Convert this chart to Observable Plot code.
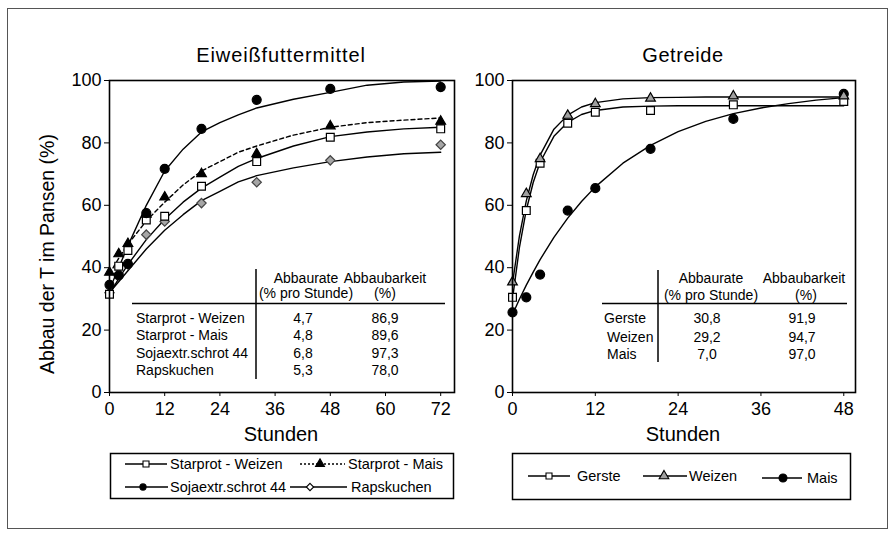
<!DOCTYPE html>
<html><head><meta charset="utf-8">
<script src="https://cdn.jsdelivr.net/npm/d3@7"></script>
<script src="https://cdn.jsdelivr.net/npm/@observablehq/plot@0.6"></script>
<style>
body{margin:0;background:#fff;}
#wrap{position:relative;width:890px;height:536px;overflow:hidden;background:#fff;font-family:"Liberation Sans",Arial,sans-serif;}
#wrap > svg, #wrap > div{position:absolute;}
</style></head><body><div id="wrap"></div>
<script>
// ---------- data: Eiweißfuttermittel ----------
const leftHours = [0, 2, 4, 8, 12, 20, 32, 48, 72];
const spWeizenPts = [31.5, 40.5, 45.5, 55.3, 56.5, 66.1, 74.0, 81.8, 84.5];
const spMaisPts   = [38.5, 44.4, 47.7, 57.1, 62.6, 70.1, 76.5, 85.4, 86.9];
const sojaPts     = [34.5, 37.5, 41.2, 57.5, 71.7, 84.5, 93.8, 97.3, 97.9];
const rapsPts     = [32.0, 38.0, 41.0, 50.6, 54.8, 60.7, 67.4, 74.4, 79.4];
const leftCurveHours = [0, 2, 4, 8, 12, 16, 20, 24, 28, 32, 40, 48, 56, 64, 72];
const spWeizenCurve = [31.5, 36.5, 41, 49, 55.5, 61, 65.5, 69, 72.5, 75, 79, 82, 83.5, 84.5, 85];
const spMaisCurve   = [38, 43, 47.5, 55, 61, 66.5, 71, 74, 77, 79, 82.5, 85, 86.5, 87.3, 88];
const sojaCurve     = [33, 40, 47, 60, 71, 78, 83.5, 86.5, 89, 91.2, 94, 96.2, 98.5, 99.5, 99.8];
const rapsCurve     = [32, 35.5, 39, 46, 52, 57, 61.5, 64.5, 67.5, 69.5, 72, 74, 75.5, 76.5, 77];
const leftNames = ["Starprot - Weizen", "Starprot - Mais", "Sojaextr.schrot 44", "Rapskuchen"];
const leftRate  = ["4,7", "4,8", "6,8", "5,3"];
const leftDeg   = ["86,9", "89,6", "97,3", "78,0"];

// ---------- data: Getreide ----------
const rightHours = [0, 2, 4, 8, 12, 20, 32, 48];
const gerstePts = [30.5, 58.3, 73.5, 86.3, 89.8, 90.4, 92.2, 93.3];
const weizenPts = [35.4, 63.7, 74.9, 88.8, 92.5, 94.3, 95.0, 95.0];
const maisPts   = [25.7, 30.5, 37.8, 58.3, 65.5, 78.1, 87.7, 95.7];
const rightCurveHours = [0, 1, 2, 3, 4, 6, 8, 10, 12, 16, 20, 24, 28, 32, 36, 40, 44, 48];
const gersteCurve = [30, 46.4, 58.5, 67.3, 73.8, 82.1, 86.6, 89.1, 90.4, 91.5, 91.8, 91.9, 91.9, 91.9, 91.9, 91.9, 91.9, 91.9];
const weizenCurve = [35, 50.1, 61.4, 69.8, 76.1, 84.4, 88.9, 91.5, 92.9, 94.1, 94.5, 94.6, 94.7, 94.7, 94.7, 94.7, 94.7, 94.7];
const maisCurve   = [25, 29.9, 34.4, 38.6, 42.6, 49.7, 55.9, 61.2, 65.9, 73.5, 79.2, 83.6, 86.9, 89.4, 91.2, 92.6, 93.7, 94.5];
const rightNames = ["Gerste", "Weizen", "Mais"];
const rightRate  = ["30,8", "29,2", "7,0"];
const rightDeg   = ["91,9", "94,7", "97,0"];

const yTicks = [0, 20, 40, 60, 80, 100];
const leftXTicks = [0, 12, 24, 36, 48, 60, 72];
const rightXTicks = [0, 12, 24, 36, 48];

const FONT = "Liberation Sans, Arial, sans-serif";
const rows = (hs, vs) => hs.map((h, i) => ({h, v: vs[i]}));

const leftSeries = [
  {curve: rows(leftCurveHours, rapsCurve), pts: rows(leftHours, rapsPts), symbol: "diamond2", fill: "#a6a6a6", stroke: "#444", r: 4.2},
  {curve: rows(leftCurveHours, spWeizenCurve), pts: rows(leftHours, spWeizenPts), symbol: "square", fill: "white", stroke: "black", r: 4.4},
  {curve: rows(leftCurveHours, spMaisCurve), pts: rows(leftHours, spMaisPts), symbol: "triangle", fill: "black", stroke: "black", r: 3.6, dash: "4,3"},
  {curve: rows(leftCurveHours, sojaCurve), pts: rows(leftHours, sojaPts), symbol: "circle", fill: "black", stroke: "black", r: 4.5}
];
const rightSeries = [
  {curve: rows(rightCurveHours, maisCurve), pts: rows(rightHours, maisPts), symbol: "circle", fill: "black", stroke: "black", r: 4.5},
  {curve: rows(rightCurveHours, gersteCurve), pts: rows(rightHours, gerstePts), symbol: "square", fill: "white", stroke: "black", r: 4.4},
  {curve: rows(rightCurveHours, weizenCurve), pts: rows(rightHours, weizenPts), symbol: "triangle", fill: "#a0a0a0", stroke: "black", r: 3.6}
];

function panel(o) {
  return Plot.plot({
    width: o.width, height: 440,
    marginLeft: o.ml, marginRight: o.mr, marginTop: 80, marginBottom: 48,
    x: {domain: o.xDomain},
    y: {domain: [0, 100]},
    style: {fontFamily: FONT, fontSize: "18px", color: "black", background: "transparent", overflow: "visible"},
    marks: [
      Plot.axisY({ticks: yTicks, tickSize: 5, tickPadding: 3, label: null, fontSize: 18}),
      Plot.axisX({ticks: o.xTicks, tickSize: 4, tickPadding: 6, label: null, fontSize: 18}),
      ...o.series.map(s => Plot.line(s.curve, {x: "h", y: "v", stroke: "black", strokeWidth: 1.4, strokeDasharray: s.dash})),
      ...o.series.map(s => Plot.dot(s.pts, {x: "h", y: "v", symbol: s.symbol, fill: s.fill, stroke: s.stroke, strokeWidth: 1.2, r: s.r})),
      Plot.frame({stroke: "black", strokeWidth: 1.6})
    ]
  });
}

const wrap = document.getElementById("wrap");
const p1 = panel({width: 470, ml: 109, mr: 16, xDomain: [0, 75], xTicks: leftXTicks, series: leftSeries});
p1.style.left = "0px"; p1.style.top = "0px";
wrap.appendChild(p1);
const p2 = panel({width: 430, ml: 72, mr: 15, xDomain: [0, 49.7], xTicks: rightXTicks, series: rightSeries});
p2.style.left = "440px"; p2.style.top = "0px";
wrap.appendChild(p2);

// ---------- overlay: titles, labels, tables, legends ----------
const svg = d3.select(wrap).append("svg").attr("width", 890).attr("height", 536)
  .style("left", "0px").style("top", "0px").style("font-family", FONT);

svg.append("rect").attr("x", 7.5).attr("y", 8.5).attr("width", 880).attr("height", 520)
  .attr("fill", "none").attr("stroke", "#555").attr("stroke-width", 1);

const txt = (x, y, s, size, anchor = "start", ls = null) => svg.append("text").attr("x", x).attr("y", y)
  .attr("font-size", size).attr("text-anchor", anchor).attr("fill", "black")
  .attr("letter-spacing", ls).text(s);

txt(281, 62, "Eiweißfuttermittel", 20, "middle", "0.9px");
txt(683, 62, "Getreide", 20, "middle", "0.6px");
txt(281, 441, "Stunden", 20, "middle");
txt(683, 441, "Stunden", 20, "middle");
svg.append("text").attr("transform", "translate(54,254) rotate(-90)").attr("font-size", 19.5)
  .attr("text-anchor", "middle").text("Abbau der T im Pansen (%)");

const line = (x1, y1, x2, y2, w = 1.5, dash = null) => svg.append("line").attr("x1", x1).attr("y1", y1)
  .attr("x2", x2).attr("y2", y2).attr("stroke", "black").attr("stroke-width", w).attr("stroke-dasharray", dash);

// left table
line(256, 269, 256, 379);
line(132, 303.5, 445, 303.5);
txt(306, 283, "Abbaurate", 14, "middle");
txt(306, 298, "(% pro Stunde)", 14, "middle");
txt(385, 283, "Abbaubarkeit", 14, "middle");
txt(385, 298, "(%)", 14, "middle");
leftNames.forEach((n, i) => {
  const y = [323, 340, 358, 375][i];
  txt(136, y, n, 14);
  txt(303, y, leftRate[i], 14, "middle");
  txt(385, y, leftDeg[i], 14, "middle");
});

// right table
line(658, 270, 658, 362);
line(602, 303.5, 847, 303.5);
txt(711, 283, "Abbaurate", 14, "middle");
txt(711, 300, "(% pro Stunde)", 14, "middle");
txt(804, 283, "Abbaubarkeit", 14, "middle");
txt(806, 300, "(%)", 14, "middle");
rightNames.forEach((n, i) => {
  const y = [323, 342, 359][i];
  txt(i === 0 ? 604 : 607, y, n, 14);
  txt(707, y, rightRate[i], 14, "middle");
  txt(802, y, rightDeg[i], 14, "middle");
});

// legends
svg.append("rect").attr("x", 110.5).attr("y", 453.5).attr("width", 343).attr("height", 45)
  .attr("fill", "none").attr("stroke", "black").attr("stroke-width", 1.5);
svg.append("rect").attr("x", 512.5).attr("y", 453.5).attr("width", 338).attr("height", 46)
  .attr("fill", "none").attr("stroke", "black").attr("stroke-width", 1.5);

const symMap = {circle: d3.symbolCircle, square: d3.symbolSquare, triangle: d3.symbolTriangle, diamond2: d3.symbolDiamond2};
function legendItem(x1, x2, xm, y, sym, fill, size, label, tx, dash = null, ty = y) {
  line(x1, y, x2, y, 1.5, dash);
  svg.append("path").attr("transform", `translate(${xm},${y})`)
    .attr("d", d3.symbol(symMap[sym], size)()).attr("fill", fill).attr("stroke", "black").attr("stroke-width", 1.1);
  txt(tx, ty + 5, label, 14.5);
}
legendItem(125, 167, 146, 464, "square", "white", 36, leftNames[0], 170);
legendItem(300, 345, 320, 464, "triangle", "black", 34, leftNames[1], 348, "2,2");
legendItem(125, 168, 143, 487, "circle", "black", 30, leftNames[2], 170);
legendItem(290, 347, 310, 487, "diamond2", "white", 34, leftNames[3], 351);
legendItem(528, 570, 549, 476, "square", "white", 36, rightNames[0], 577);
legendItem(643, 687, 664, 476, "triangle", "#a0a0a0", 40, rightNames[1], 689);
legendItem(762, 802, 783, 478, "circle", "black", 50, rightNames[2], 807, null, 478);
</script>
</body></html>
